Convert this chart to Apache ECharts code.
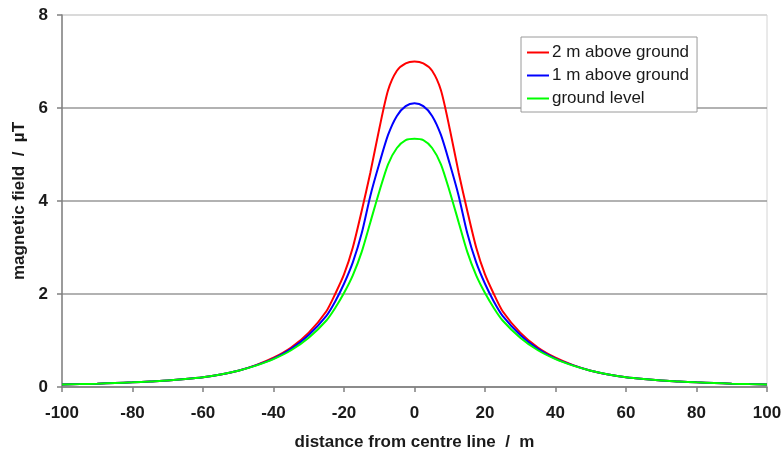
<!DOCTYPE html>
<html>
<head>
<meta charset="utf-8">
<script src="https://cdn.jsdelivr.net/npm/echarts@6/dist/echarts.min.js"></script>
<style>
  html, body { margin: 0; padding: 0; background: #fff; }
  #chart { width: 783px; height: 452px; }
</style>
</head>
<body>
<div id="chart"></div>
<script>
// Distance from centre line (m), one half; the profile is mirrored about 0
const halfDistance = [-100, -95, -90, -85, -80, -75, -70, -65, -60, -55, -50, -45, -40, -35, -30,
  -25, -22.5, -20, -17.5, -15, -12.5, -10, -7.5, -5, -2.5, 0];

// Magnetic field (µT) at each height, same order as halfDistance
const fieldAt2m = [0.055, 0.062, 0.072, 0.085, 0.10, 0.12, 0.14, 0.17, 0.21, 0.27, 0.35, 0.47, 0.63, 0.85, 1.17,
  1.63, 2.0, 2.42, 3.0, 3.78, 4.62, 5.55, 6.38, 6.80, 6.96, 7.0];
const fieldAt1m = [0.055, 0.062, 0.072, 0.085, 0.10, 0.12, 0.14, 0.17, 0.21, 0.27, 0.35, 0.465, 0.61, 0.82, 1.12,
  1.53, 1.84, 2.22, 2.68, 3.30, 4.12, 4.80, 5.42, 5.83, 6.04, 6.10];
const fieldAtGround = [0.055, 0.062, 0.072, 0.085, 0.10, 0.12, 0.14, 0.17, 0.21, 0.27, 0.35, 0.46, 0.60, 0.79, 1.06,
  1.43, 1.70, 2.02, 2.40, 2.90, 3.55, 4.20, 4.79, 5.14, 5.31, 5.34];

const seriesNames = ['2 m above ground', '1 m above ground', 'ground level'];
const seriesColors = ['#ff0000', '#0000ff', '#00ff00'];

const xTicks = { min: -100, max: 100, interval: 20 };
const yTicks = { min: 0, max: 8, interval: 2 };

// Build a full symmetric profile from the half-profile
function fullProfile(values) {
  const pts = halfDistance.map((d, i) => [d, values[i]]);
  for (let i = halfDistance.length - 2; i >= 0; i--) {
    pts.push([-halfDistance[i], values[i]]);
  }
  return pts;
}

const profiles = [fieldAt2m, fieldAt1m, fieldAtGround];

const chart = echarts.init(document.getElementById('chart'), null, { renderer: 'canvas' });

const axisFont = { fontFamily: 'Liberation Sans, Arial, sans-serif', fontWeight: 'bold', fontSize: 17, color: '#1a1a1a' };

chart.setOption({
  animation: false,
  backgroundColor: '#ffffff',
  grid: {
    left: 62, right: 16, top: 15, bottom: 65,
    containLabel: false,
    outerBoundsMode: 'none',
    show: true, borderColor: '#d4d4d4', borderWidth: 1, backgroundColor: 'transparent'
  },
  legend: {
    orient: 'vertical',
    left: 521, top: 37,
    padding: [7, 8, 5, 6],
    itemGap: 6,
    itemWidth: 22,
    itemHeight: 2,
    icon: 'rect',
    backgroundColor: '#ffffff',
    borderColor: '#9a9a9a',
    borderWidth: 1,
    textStyle: { fontFamily: 'Liberation Sans, Arial, sans-serif', fontSize: 17, color: '#1a1a1a', lineHeight: 17, padding: [0, 0, 0, -2] },
    data: seriesNames
  },
  xAxis: {
    type: 'value',
    min: xTicks.min, max: xTicks.max, interval: xTicks.interval,
    name: 'distance from centre line  /  m',
    nameLocation: 'middle',
    nameGap: 47,
    nameTextStyle: axisFont,
    axisLine: { onZero: false, lineStyle: { color: '#808080', width: 1.5 } },
    axisTick: { show: true, length: 5, lineStyle: { color: '#808080', width: 1.5 } },
    axisLabel: Object.assign({ margin: 18 }, axisFont),
    splitLine: { show: false }
  },
  yAxis: {
    type: 'value',
    min: yTicks.min, max: yTicks.max, interval: yTicks.interval,
    name: 'magnetic field  /  µT',
    nameLocation: 'middle',
    nameGap: 25,
    nameTextStyle: axisFont,
    axisLine: { show: true, onZero: false, lineStyle: { color: '#808080', width: 1.5 } },
    axisTick: { show: true, length: 5, lineStyle: { color: '#808080', width: 1.5 } },
    axisLabel: Object.assign({ margin: 14 }, axisFont),
    splitLine: {
      show: true,
      lineStyle: { color: ['#999999', '#999999', '#999999', '#999999', '#d4d4d4'], width: 1.5 }
    }
  },
  series: profiles.map((vals, i) => ({
    name: seriesNames[i],
    type: 'line',
    data: fullProfile(vals),
    smooth: 0.25,
    showSymbol: false,
    symbol: 'none',
    color: seriesColors[i],
    lineStyle: { color: seriesColors[i], width: 2 },
    z: 2 + i
  }))
});
</script>
</body>
</html>
